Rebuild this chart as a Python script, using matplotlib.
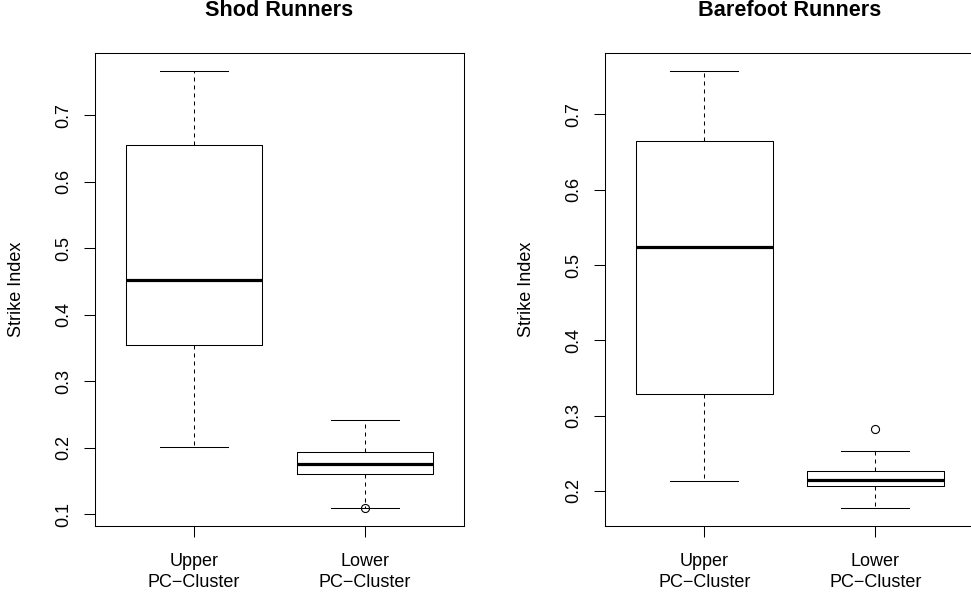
import numpy as np
import matplotlib
matplotlib.use('Agg')
import matplotlib.pyplot as plt

plt.rcParams['font.family'] = ['Liberation Sans', 'DejaVu Sans']

# Box summaries ----------------------------------------------------------------
groups = ['Upper\nPC\u2212Cluster', 'Lower\nPC\u2212Cluster']

shod_whislo = [0.201, 0.110]
shod_q1 = [0.354, 0.160]
shod_med = [0.453, 0.175]
shod_q3 = [0.656, 0.193]
shod_whishi = [0.767, 0.2415]
shod_fliers = [[], [0.109]]

bare_whislo = [0.213, 0.177]
bare_q1 = [0.329, 0.2066]
bare_med = [0.524, 0.215]
bare_q3 = [0.665, 0.2266]
bare_whishi = [0.758, 0.253]
bare_fliers = [[], [0.282]]

shod_ticks = [0.1, 0.2, 0.3, 0.4, 0.5, 0.6, 0.7]
bare_ticks = [0.2, 0.3, 0.4, 0.5, 0.6, 0.7]

fig = plt.figure(figsize=(9.71, 5.98), dpi=100)

lw = 0.75


def draw_panel(ax, title, whislo, q1, med, q3, whishi, fliers, ticks):
    stats = []
    for i in range(len(groups)):
        stats.append(dict(whislo=whislo[i], q1=q1[i], med=med[i], q3=q3[i],
                          whishi=whishi[i], fliers=fliers[i], label=groups[i]))
    ax.bxp(stats, positions=[1, 2], widths=0.8, capwidths=0.4,
           boxprops=dict(color='black', linewidth=lw),
           medianprops=dict(color='black', linewidth=2.3, solid_capstyle='butt'),
           whiskerprops=dict(color='black', linewidth=lw, linestyle=(0, (3.84, 3.84))),
           capprops=dict(color='black', linewidth=lw),
           flierprops=dict(marker='o', markerfacecolor='none', markeredgecolor='black',
                           markersize=5.8, markeredgewidth=0.8))
    # R style range: data range plus 4% each side
    lo = min(min(whislo), min([min(f) if f else 1 for f in fliers]))
    hi = max(max(whishi), max([max(f) if f else 0 for f in fliers]))
    r = hi - lo
    ax.set_ylim(lo - 0.04 * r, hi + 0.04 * r)
    ax.set_xlim(0.42, 2.58)
    ax.set_yticks(ticks)
    ax.set_yticklabels([str(t) for t in ticks], rotation=90, va='center')
    ax.set_xticks([1, 2])
    ax.set_xticklabels(groups, linespacing=1.25)
    ax.tick_params(axis='both', direction='out', length=8, width=lw, labelsize=13, color='black')
    ax.tick_params(axis='y', pad=8.5)
    ax.tick_params(axis='x', pad=12)
    for s in ax.spines.values():
        s.set_linewidth(lw)
        s.set_color('black')
    ax.set_ylabel('Strike Index', fontsize=13)
    ax.yaxis.set_label_coords(-0.212, 0.5)
    ax.yaxis.label.set_va('center')
    ax.set_title(title, fontsize=15.6, fontweight='bold', pad=26.7)


ax1 = fig.add_axes([0.0978, 0.1209, 0.380, 0.790])
draw_panel(ax1, 'Shod Runners', shod_whislo, shod_q1, shod_med, shod_q3,
           shod_whishi, shod_fliers, shod_ticks)

ax2 = fig.add_axes([0.6231, 0.1209, 0.3804, 0.790])
draw_panel(ax2, 'Barefoot Runners', bare_whislo, bare_q1, bare_med, bare_q3,
           bare_whishi, bare_fliers, bare_ticks)

fig.savefig('out.png', dpi=100)
